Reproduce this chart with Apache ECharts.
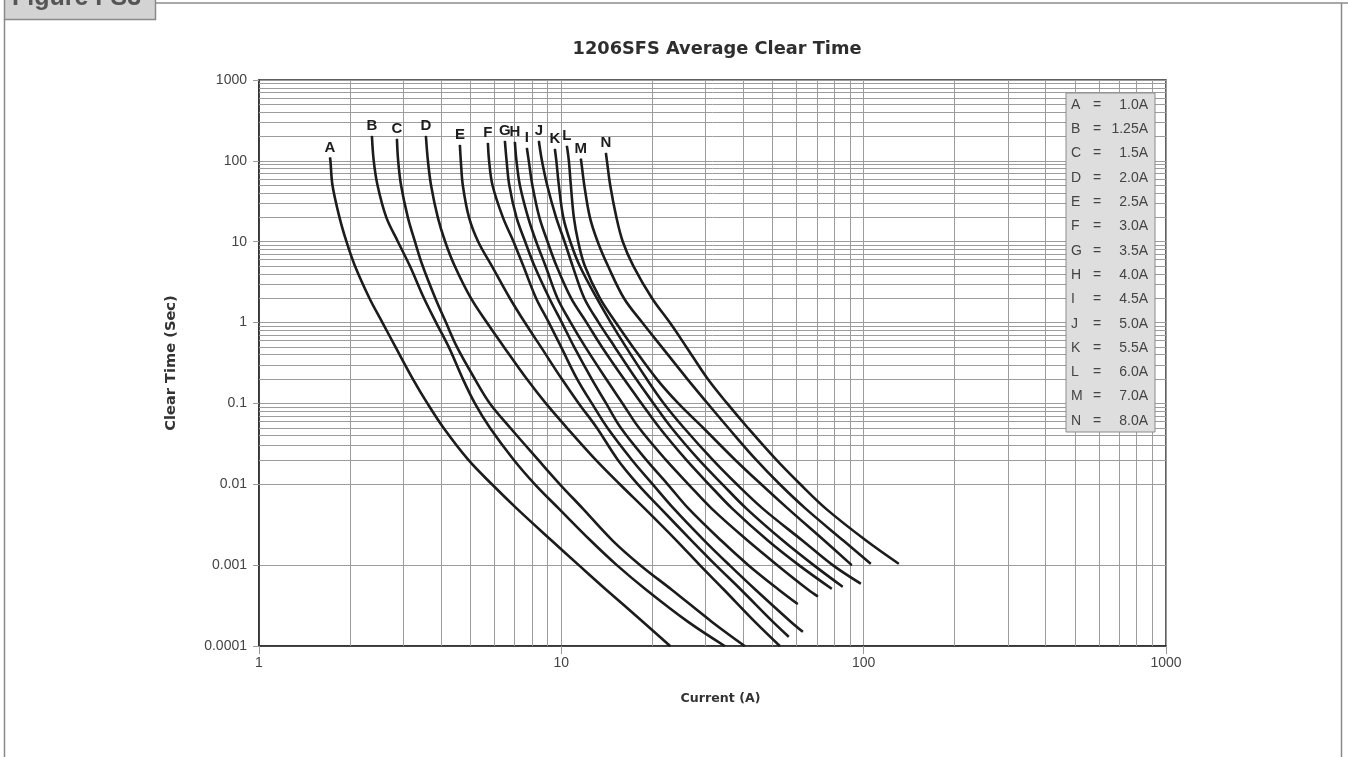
<!DOCTYPE html>
<html><head><meta charset="utf-8">
<script src="https://cdn.jsdelivr.net/npm/echarts@6/dist/echarts.min.js"></script>
<style>html,body{margin:0;padding:0;background:#fff;overflow:hidden}#c{width:1348px;height:757px;}</style>
</head><body><div id="c"></div>
<script>
// ---- data: [current (A), clear time (s)] ----
const curveNames = ['A','B','C','D','E','F','G','H','I','J','K','L','M','N'];
const curveA = [[1.717,110],[1.723,100],[1.750,50],[1.846,20],[1.947,10],[2.077,5],[2.319,2],[2.560,1],[2.827,0.5],[3.229,0.2],[3.606,0.1],[4.074,0.05],[4.927,0.02],[5.893,0.01],[7.128,0.005],[9.304,0.002],[11.42,0.001],[14.04,0.0005],[18.60,0.0002],[22.9,0.0001]];
const curveB = [[2.363,203],[2.396,100],[2.466,50],[2.637,20],[2.881,10],[3.156,5],[3.514,2],[3.853,1],[4.241,0.5],[4.726,0.2],[5.177,0.1],[5.803,0.05],[6.966,0.02],[8.177,0.01],[9.812,0.005],[12.52,0.002],[15.26,0.001],[19.03,0.0005],[26.20,0.0002],[34.7,0.0001]];
const curveC = [[2.859,187],[2.886,100],[2.950,50],[3.107,20],[3.280,10],[3.479,5],[3.830,2],[4.155,1],[4.514,0.5],[5.177,0.2],[5.803,0.1],[6.773,0.05],[8.390,0.02],[9.888,0.01],[11.78,0.005],[14.80,0.002],[18.24,0.001],[23.13,0.0005],[31.43,0.0002],[40.4,0.0001]];
const curveD = [[3.565,203],[3.620,100],[3.707,50],[3.903,20],[4.129,10],[4.440,5],[5.022,2],[5.672,1],[6.456,0.5],[7.691,0.2],[8.888,0.1],[10.43,0.05],[13.00,0.02],[15.61,0.01],[18.88,0.005],[24.09,0.002],[28.71,0.001],[34.45,0.0005],[43.63,0.0002],[52.8,0.0001]];
const curveE = [[4.618,157],[4.651,100],[4.722,50],[4.950,20],[5.309,10],[5.893,5],[6.757,2],[7.575,1],[8.557,0.5],[10.04,0.2],[11.42,0.1],[13.10,0.05],[15.38,0.02],[17.91,0.01],[21.33,0.005],[27.01,0.002],[32.42,0.001],[39.22,0.0005],[50.04,0.0002],[56.5,0.00013]];
const curveF = [[5.717,166],[5.768,100],[5.920,50],[6.408,20],[6.950,10],[7.488,5],[8.250,2],[9.094,1],[9.979,0.5],[11.28,0.2],[12.62,0.1],[14.20,0.05],[17.12,0.02],[20.06,0.01],[23.55,0.005],[29.77,0.002],[35.98,0.001],[43.79,0.0005],[57.38,0.0002],[62.9,0.00015]];
const curveG = [[6.506,176],[6.591,100],[6.728,50],[7.106,20],[7.594,10],[8.150,5],[9.123,2],[10.04,1],[11.02,0.5],[12.61,0.2],[14.07,0.1],[15.72,0.05],[19.10,0.02],[22.48,0.01],[26.36,0.005],[33.86,0.002],[41.55,0.001],[52.26,0.0005],[60.5,0.00033]];
const curveH = [[7.020,171],[7.106,100],[7.293,50],[7.762,20],[8.258,10],[8.868,5],[9.710,2],[10.74,1],[12.00,0.5],[14.07,0.2],[15.94,0.1],[18.06,0.05],[22.18,0.02],[26.33,0.01],[31.43,0.005],[41.40,0.002],[51.79,0.001],[65.41,0.0005],[70.5,0.00041]];
const curveI = [[7.691,144],[7.803,100],[8.020,50],[8.460,20],[9.005,10],[9.643,5],[10.77,2],[12.12,1],[13.62,0.5],[16.12,0.2],[18.42,0.1],[21.11,0.05],[25.91,0.02],[30.76,0.01],[36.77,0.005],[48.31,0.002],[61.04,0.001],[78.4,0.00051]];
const curveJ = [[8.427,176],[8.628,100],[8.977,50],[9.606,20],[10.25,10],[10.90,5],[11.91,2],[13.29,1],[15.02,0.5],[17.68,0.2],[20.18,0.1],[23.13,0.05],[28.53,0.02],[34.10,0.01],[40.96,0.005],[54.16,0.002],[68.33,0.001],[85.2,0.00054]];
const curveK = [[9.519,140],[9.627,100],[9.812,50],[10.15,20],[10.71,10],[11.51,5],[13.10,2],[14.58,1],[16.35,0.5],[19.17,0.2],[21.83,0.1],[25.42,0.05],[31.69,0.02],[38.05,0.01],[46.38,0.005],[62.87,0.002],[79.0,0.001],[97.8,0.00059]];
const curveL = [[10.43,153],[10.59,100],[10.75,50],[11.00,20],[11.37,10],[11.96,5],[13.41,2],[15.14,1],[17.24,0.5],[20.69,0.2],[24.38,0.1],[29.43,0.05],[37.61,0.02],[45.81,0.01],[56.17,0.005],[74.22,0.002],[91.3,0.001]];
const curveM = [[11.60,106],[11.63,100],[11.91,50],[12.43,20],[13.19,10],[14.27,5],[16.11,2],[18.52,1],[21.47,0.5],[26.12,0.2],[30.46,0.1],[35.63,0.05],[44.13,0.02],[52.78,0.01],[64.27,0.005],[85.82,0.002],[105.5,0.00104]];
const curveN = [[14.04,125],[14.15,100],[14.51,50],[15.21,20],[15.97,10],[17.31,5],[19.95,2],[22.85,1],[25.91,0.5],[30.51,0.2],[35.36,0.1],[41.36,0.05],[51.46,0.02],[61.73,0.01],[74.96,0.005],[102.1,0.002],[130.6,0.00104]];
const curves = [curveA,curveB,curveC,curveD,curveE,curveF,curveG,curveH,curveI,curveJ,curveK,curveL,curveM,curveN];

const legendLetters = ['A','B','C','D','E','F','G','H','I','J','K','L','M','N'];
const legendRatings = ['1.0A','1.25A','1.5A','2.0A','2.5A','3.0A','3.5A','4.0A','4.5A','5.0A','5.5A','6.0A','7.0A','8.0A'];

const xTickLabels = ['1','10','100','1000'];
const yTickLabels = ['0.0001','0.001','0.01','0.1','1','10','100','1000'];
const minorMultipliers = [2,3,4,5,6,7,8,9];
const xDecades = [0,1,2];
const yDecades = [-4,-3,-2,-1,0,1,2];

const xMinor = [], yMinor = [];
xDecades.forEach(d => minorMultipliers.forEach(k => xMinor.push(+(k*Math.pow(10,d)).toPrecision(3))));
yDecades.forEach(d => minorMultipliers.forEach(k => yMinor.push(+(k*Math.pow(10,d)).toPrecision(3))));

const chart = echarts.init(document.getElementById('c'));
const FONT = 'Liberation Sans, Arial, Helvetica, sans-serif';
const WIDE = 'DejaVu Sans, Liberation Sans, sans-serif';
const gridColor = '#9c9c9c';

const series = curves.map((c, i) => ({
  name: curveNames[i],
  type: 'line',
  z: 5,
  smooth: 0.35,
  symbol: 'circle',
  symbolSize: 1,
  showSymbol: true,
  itemStyle: {color: '#1c1c1c'},
  lineStyle: {color: '#1c1c1c', width: 2.6},
  label: {show: false, position: 'top', distance: 2, formatter: curveNames[i],
          fontFamily: FONT, fontWeight: 'bold', fontSize: 15, color: '#1c1c1c'},
  data: c.map((p, j) => j === 0 ? {value: p, label: {show: true}} : {value: p}),
  silent: true
}));

series.push({
  type: 'line', name: 'grid', data: [], z: 1, silent: true,
  markLine: {
    silent: true, symbol: ['none','none'], label: {show: false},
    lineStyle: {color: gridColor, width: 1, type: 'solid'},
    emphasis: {disabled: true},
    data: xMinor.map(v => ({xAxis: v})).concat(yMinor.map(v => ({yAxis: v})))
  }
});

const graphics = [];
// page frame
graphics.push({type:'line', shape:{x1:155,y1:3,x2:1348,y2:3}, style:{stroke:'#a8a8a8', lineWidth:2}});
graphics.push({type:'line', shape:{x1:4.5,y1:19,x2:4.5,y2:757}, style:{stroke:'#8a8a8a', lineWidth:1.5}});
graphics.push({type:'line', shape:{x1:1341.5,y1:3,x2:1341.5,y2:757}, style:{stroke:'#8a8a8a', lineWidth:1.5}});
graphics.push({type:'rect', shape:{x:4.5,y:-10,width:151,height:29.5}, style:{fill:'#d3d3d3', stroke:'#8a8a8a', lineWidth:1.5}});
graphics.push({type:'text', x:12, y:11, style:{text:'Figure FS3', fill:'#555', font:'bold 25px ' + FONT, textVerticalAlign:'bottom', textBaseline:'alphabetic'}});
// legend box
graphics.push({type:'rect', z:50, shape:{x:1066,y:93,width:89,height:339}, style:{fill:'#dedede', stroke:'#8c8c8c', lineWidth:1}});
legendLetters.forEach((l, i) => {
  const y = 105 + i * 24.3;
  graphics.push({type:'text', z:51, x:1071, y:y, style:{text:l, fill:'#444', font:'14px ' + FONT, textVerticalAlign:'middle'}});
  graphics.push({type:'text', z:51, x:1093, y:y, style:{text:'=', fill:'#444', font:'14px ' + FONT, textVerticalAlign:'middle'}});
  graphics.push({type:'text', z:51, x:1148, y:y, style:{text:legendRatings[i], fill:'#444', font:'14px ' + FONT, textAlign:'right', textVerticalAlign:'middle'}});
});

chart.setOption({
  animation: false,
  backgroundColor: '#fff',
  title: {
    text: '1206SFS Average Clear Time', left: 712, top: 35, textAlign: 'center',
    textStyle: {fontFamily: WIDE, fontWeight: 'bold', fontSize: 17.8, color: '#2e2e2e'}
  },
  grid: {left: 259, right: 182, top: 80, bottom: 111, show: true, borderColor: '#2a2a2a', borderWidth: 1.5, backgroundColor: 'transparent'},
  xAxis: {
    type: 'log', logBase: 10, min: 1, max: 1000, splitNumber: 3,
    name: 'Current (A)', nameLocation: 'middle', nameGap: 46,
    nameTextStyle: {fontFamily: WIDE, fontWeight: 'bold', fontSize: 12.6, color: '#333', padding: [0, 0, 0, 16]},
    axisLine: {show: true, lineStyle: {color: '#2a2a2a', width: 1.5}},
    axisTick: {show: true, length: 8, lineStyle: {color: '#999'}},
    axisLabel: {margin: 10, fontFamily: FONT, fontSize: 14, color: '#444',
      formatter: v => xTickLabels[Math.round(Math.log10(v))]},
    splitLine: {show: true, lineStyle: {color: gridColor, width: 1}}
  },
  yAxis: {
    type: 'log', logBase: 10, min: 0.0001, max: 1000, splitNumber: 7,
    name: 'Clear Time (Sec)', nameLocation: 'middle', nameGap: 80, nameRotate: 90,
    nameTextStyle: {fontFamily: WIDE, fontWeight: 'bold', fontSize: 14.6, color: '#333'},
    axisLine: {show: true, lineStyle: {color: '#2a2a2a', width: 1.5}},
    axisTick: {show: true, length: 6, lineStyle: {color: '#999'}},
    axisLabel: {margin: 12, fontFamily: FONT, fontSize: 14, color: '#444',
      formatter: v => yTickLabels[Math.round(Math.log10(v)) + 4]},
    splitLine: {show: true, lineStyle: {color: gridColor, width: 1}}
  },
  graphic: {elements: graphics},
  series: series
});
</script>
</body></html>
